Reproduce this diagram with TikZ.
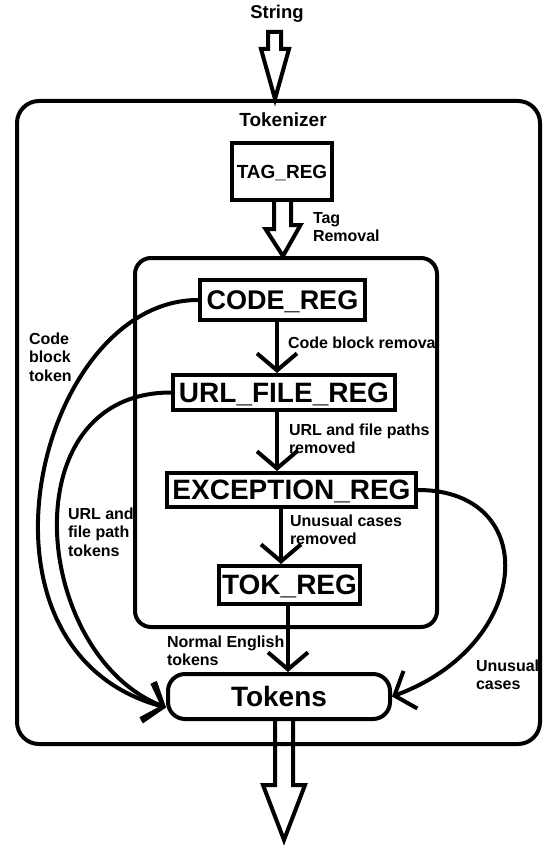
\documentclass[tikz,border=0pt]{standalone}
\usepackage{fontspec}
\setmainfont{Liberation Sans}
\usetikzlibrary{arrows.meta}

\begin{document}
\begin{tikzpicture}[x=1pt,y=-1pt,line width=4pt,
    reg/.style={draw,inner sep=0pt,text depth=0pt,font=\fontsize{28}{32}\selectfont\bfseries},
    roundbox/.style={draw,inner sep=0pt,rounded corners=#1},
    lbl/.style={anchor=west,inner sep=0pt,align=left,font=\fontsize{16}{18.5}\selectfont\bfseries},
    flow/.style={-{Straight Barb[length=17pt,width=40pt]}},
    hollow/.style={draw,line join=miter}]
        \useasboundingbox (0,0) rectangle (558,848);
        \node[font=\fontsize{18.5}{22}\selectfont\bfseries] (string) at (277,14) {String};
        \node[roundbox=22pt,minimum width=523pt,minimum height=643pt] (tokenizer) at (278.5,422.5) {};
        \node[font=\fontsize{19}{22}\selectfont\bfseries] (title) at (283,120) {Tokenizer};
        \node[reg,font=\fontsize{19}{22}\selectfont\bfseries,minimum width=100pt,minimum height=57pt] (tag) at (282,171.5) {TAG\_REG};
        \node[reg,font=\fontsize{27}{30}\selectfont\bfseries,minimum width=165pt,minimum height=40pt] (code) at (282.5,300) {CODE\_REG};
        \node[reg,minimum width=222pt,minimum height=35pt] (url) at (284,392.5) {URL\_FILE\_REG};
        \node[reg,minimum width=249pt,minimum height=34pt] (exc) at (291.5,490) {EXCEPTION\_REG};
        \node[reg,minimum width=141pt,minimum height=38pt] (tok) at (289.5,585) {TOK\_REG};
        \node[reg,roundbox=17pt,minimum width=222pt,minimum height=45pt] (tokens) at (279,696.5) {Tokens};
        % edge labels
        \node[lbl] (taglbl) at (311,227) {Tag\\Removal};
        \node[lbl] (codelbl) at (286,343) {Code block removal};
        \node[lbl] (urllbl) at (287,439) {URL and file paths\\removed};
        \node[lbl] (exclbl) at (288,530) {Unusual cases\\removed};
        \node[lbl] (toklbl) at (165,651) {Normal English\\tokens};
        \node[lbl] (codetok) at (27,357) {Code\\block\\token};
        \node[lbl] (urltok) at (66,532) {URL and\\file path\\tokens};
        \node[lbl] (unusual) at (474,675) {Unusual\\cases};
        \node[roundbox=16pt,minimum width=302pt,minimum height=369pt] (core) at (286,442.5) {};
        % fat arrows
        \draw[hollow] ([xshift=-3.5pt]tokenizer.north) -- ++(-14,-50) -- ++(7,0) -- ++(0,-17) -- ++(13,0) -- ++(0,17) -- ++(8,0) -- cycle;
        \draw[hollow] ([xshift=-8pt]tag.south) -- ++(0,27) -- ++(-8.5,0) -- ([xshift=-3pt]core.north) -- ++(17.5,-31) -- ++(-9.5,0) -- ++(0,-27);
        \draw[hollow] ([xshift=-4pt]tokens.south) -- ++(0,64) -- ++(-12,0) -- ++(21,55) -- ++(21,-55) -- ++(-12,0) -- ++(0,-64);
        % pipeline
        \draw[flow] ([xshift=-5.5pt]code.south) -- ([xshift=-5.5pt]code.south |- url.north);
        \draw[flow] ([xshift=-7pt]url.south) -- ([xshift=-7pt]url.south |- exc.north);
        \draw[flow] ([xshift=-10.5pt]exc.south) -- ([xshift=-10.5pt]exc.south |- tok.north);
        \draw[flow] ([xshift=-1.5pt]tok.south) -- ([xshift=-1.5pt]tok.south |- tokens.north);
        % side outputs
        \draw[flow] (code.west) .. controls +(-160,0) and +(-213,-57.5) .. ([yshift=-11pt]tokens.west);
        \draw[flow] (url.west) .. controls +(-163,0) and +(-133,-52) .. ([yshift=-11pt]tokens.west);
        \draw[flow] (exc.east) .. controls +(124,0) and +(141,-52) .. (tokens.east);
\end{tikzpicture}
\end{document}
